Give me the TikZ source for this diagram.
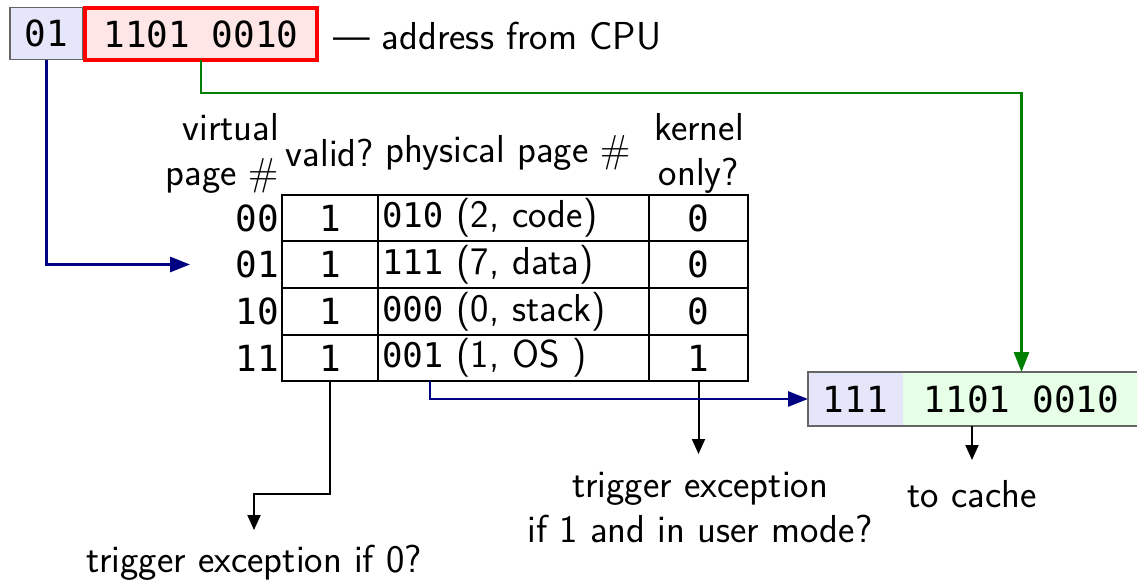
\documentclass[tikz,border=0pt]{standalone}
\usepackage{fontspec}
\setmonofont{DejaVu Sans Mono}
\renewcommand\familydefault{\sfdefault}
\usetikzlibrary{arrows.meta,calc}
\definecolor{lav}{RGB}{230,230,250}
\definecolor{pinkf}{RGB}{255,230,230}
\definecolor{greenf}{RGB}{230,255,230}
\definecolor{navyl}{RGB}{0,0,128}
\definecolor{greenl}{RGB}{0,128,0}
\newcommand\mt[1]{{\fontsize{17}{22.5}\selectfont\ttfamily #1}}
\begin{document}
\begin{tikzpicture}[x=0.5pt,y=-0.5pt,
  every node/.style={font=\fontsize{19.5}{22.5}\selectfont, inner sep=0pt, outer sep=0pt},
  mono/.style={font=\fontsize{18}{22.5}\selectfont\ttfamily},
  cell/.style={draw=black, line width=1.1pt, minimum height=23.25pt},
  vcell/.style={cell, minimum width=48pt, mono},
  pcell/.style={cell, text width=131.5pt, align=left, inner xsep=2pt},
  kcell/.style={cell, minimum width=49.5pt, mono},
  tip/.style={-{Triangle[length=7.5pt,width=6.5pt]}},
  ctip/.style={-{Triangle[length=10pt,width=7.5pt]}},
  conn/.style={line width=1pt},
  cconn/.style={line width=1.4pt},
  bitbox/.style={minimum height=26pt, mono}
]
\useasboundingbox (0,0) rectangle (1137,580);

% address from CPU
\node[bitbox, draw=gray!80!black, line width=0.6pt, fill=lav, minimum width=36.5pt] (vpn) at (46.5,33.5) {01};
\node[bitbox, draw=red, line width=2pt, fill=pinkf, minimum width=116pt] (vpo) at (201,34) {1101 0010};
\node[anchor=west] (addr) at (333,36) {--- address from CPU};

% headers
\node[anchor=east, align=right] (hvpn) at (279,153) {virtual\\page $\#$};
\node (hval) at (330,153) {valid?};
\node (hppn) at (508,153) {physical page $\#$};
\node[align=center] (hker) at (699,153) {kernel\\only?};

% table rows
\foreach \r/\y/\lab/\pp/\k in {0/218/00/{\mt{010} (2, code)}/0,
                              1/264.5/01/{\mt{111} (7, data)}/0,
                              2/311.5/10/{\mt{000} (0, stack)}/0,
                              3/358/11/{\mt{001} (1, OS )}/1}{
  \node[mono, anchor=east] (l\r) at (279,\y) {\lab};
  \node[vcell] (v\r) at (330,\y) {1};
  \node[pcell] (p\r) at (513.5,\y) {\pp};
  \node[kcell] (k\r) at (698.5,\y) {\k};
}

% physical address box
\node[bitbox, fill=lav, minimum width=47.5pt, minimum height=27pt] (pa) at (855.5,399) {111};
\node[bitbox, fill=greenf, minimum width=118.5pt, minimum height=27pt] (po) at (1021.5,399) {1101 0010};
\draw[gray!80!black, line width=0.6pt] (pa.north west) rectangle (po.south east);

% labels
\node[align=center, anchor=north] (tk) at (700,472) {trigger exception\\if 1 and in user mode?};
\node[anchor=north] (tv) at (254,545) {trigger exception if 0?};
\node[anchor=north] (tc) at (972,480) {to cache};

% black connectors
\draw[conn, tip] (k3.south) -- (k3.south |- 0,454);
\draw[conn, tip] (v3.south) -- (330,494) -| (254,530);
\draw[conn, tip] (po.south -| 972,0) -- (972,460);

% coloured connectors
\coordinate (a01) at (190,264.5);
\draw[cconn, navyl, ctip] (vpn.south) |- (a01);
\draw[cconn, greenl, ctip] (vpo.south) -- ++(0,33) -| (po.north);
\coordinate (ppout) at ($(p3.south west)+(52,0)$);
\draw[cconn, navyl, ctip] (ppout) |- (pa.west);
\end{tikzpicture}
\end{document}
